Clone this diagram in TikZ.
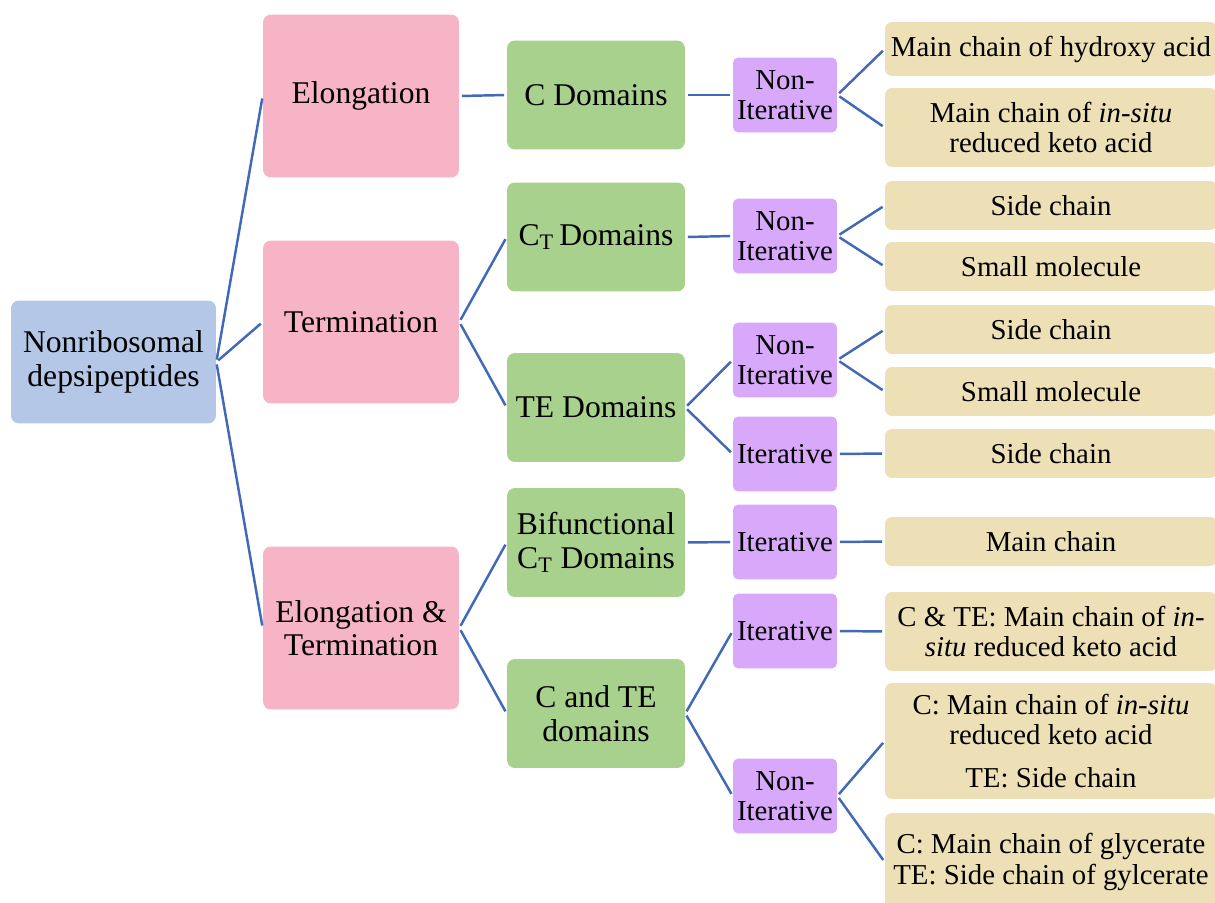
\documentclass[tikz,border=0pt]{standalone}
\usepackage{fontspec}
\setmainfont{Liberation Serif}
\definecolor{rootblue}{HTML}{B4C7E7}
\definecolor{stagepink}{HTML}{F7B4C6}
\definecolor{domgreen}{HTML}{A9D18E}
\definecolor{modepurple}{HTML}{D8A9FB}
\definecolor{leaftan}{HTML}{EDE0B6}
\definecolor{linkblue}{HTML}{4169B8}
\newcommand{\bigfs}{\fontsize{18}{19}\selectfont}
\newcommand{\smallfs}{\fontsize{16.4}{17.4}\selectfont}
\tikzset{box/.style={rounded corners=4.5pt,align=center,inner sep=1pt},
  root/.style={box,fill=rootblue,minimum width=4.1cm,minimum height=2.46cm,font=\bigfs},
  stage/.style={box,fill=stagepink,minimum width=3.92cm,minimum height=3.26cm,font=\bigfs},
  dom/.style={box,fill=domgreen,minimum width=3.56cm,minimum height=2.18cm,font=\bigfs},
  mode/.style={box,rounded corners=3pt,fill=modepurple,minimum width=2.08cm,minimum height=1.5cm,font=\smallfs},
  leaf/.style={box,rounded corners=4pt,fill=leaftan,minimum width=6.64cm,font=\smallfs},
  link/.style={linkblue,line width=1.4pt,shorten <=1.4pt,shorten >=1.4pt}}

\begin{document}
\begin{tikzpicture}[x=0.02cm,y=-0.02cm]
\useasboundingbox (0,0) rectangle (1215,903);
% root and stages
\node[root] (root) at (113.5,362) {Nonribosomal\\depsipeptides};
\node[stage] (elo) at (361,96) {Elongation};
\node[stage] (term) at (361,322) {Termination};
\node[stage] (elter) at (361,628) {Elongation \&\\Termination};
% domains
\node[dom] (cdom) at (596,95) {C Domains};
\node[dom] (ctdom) at (596,237) {C\textsubscript{T}\,Domains};
\node[dom] (tedom) at (596,407.5) {TE Domains};
\node[dom] (bifct) at (596,542.5) {Bifunctional\\C\textsubscript{T} Domains};
\node[dom] (cte) at (596,713.5) {C and TE\\domains};
% modes
\node[mode] (ni1) at (785,95) {Non-\\Iterative};
\node[mode] (ni2) at (785,236) {Non-\\Iterative};
\node[mode] (ni3) at (785,360) {Non-\\Iterative};
\node[mode] (it3) at (785,454) {Iterative};
\node[mode] (it4) at (785,542) {Iterative};
\node[mode] (it5) at (785,631) {Iterative};
\node[mode] (ni6) at (785,796) {Non-\\Iterative};
% products
\node[leaf,minimum height=1.08cm] (t1) at (1051,49) {Main chain of hydroxy acid};
\node[leaf,minimum height=1.58cm] (t2) at (1051,127.5) {Main chain of \textit{in-situ}\\reduced keto acid};
\node[leaf,minimum height=0.98cm] (t3) at (1051,205.5) {Side chain};
\node[leaf,minimum height=0.98cm] (t4) at (1051,266.5) {Small molecule};
\node[leaf,minimum height=0.98cm] (t5) at (1051,329.5) {Side chain};
\node[leaf,minimum height=0.98cm] (t6) at (1051,391.5) {Small molecule};
\node[leaf,minimum height=0.98cm] (t7) at (1051,453.5) {Side chain};
\node[leaf,minimum height=0.98cm] (t8) at (1051,541.5) {Main chain};
\node[leaf,minimum height=1.58cm] (t9) at (1051,631.5) {C \& TE: Main chain of \textit{in-}\\\textit{situ} reduced keto acid};
\node[leaf,minimum height=2.32cm] (t10) at (1051,741) {C: Main chain of \textit{in-situ}\\reduced keto acid\\[7pt]TE: Side chain};
\node[leaf,minimum height=1.96cm] (t11) at (1051,862) {C: Main chain of glycerate\\TE: Side chain of gylcerate};
% connectors
\foreach \a/\b in {root/elo,root/term,root/elter,elo/cdom,term/ctdom,term/tedom,
  elter/bifct,elter/cte,cdom/ni1,ctdom/ni2,tedom/ni3,tedom/it3,bifct/it4,cte/it5,cte/ni6,
  ni1/t1,ni1/t2,ni2/t3,ni2/t4,ni3/t5,ni3/t6,it3/t7,it4/t8,it5/t9,ni6/t10,ni6/t11}
  \draw[link] (\a.east) -- (\b.west);
\end{tikzpicture}
\end{document}
